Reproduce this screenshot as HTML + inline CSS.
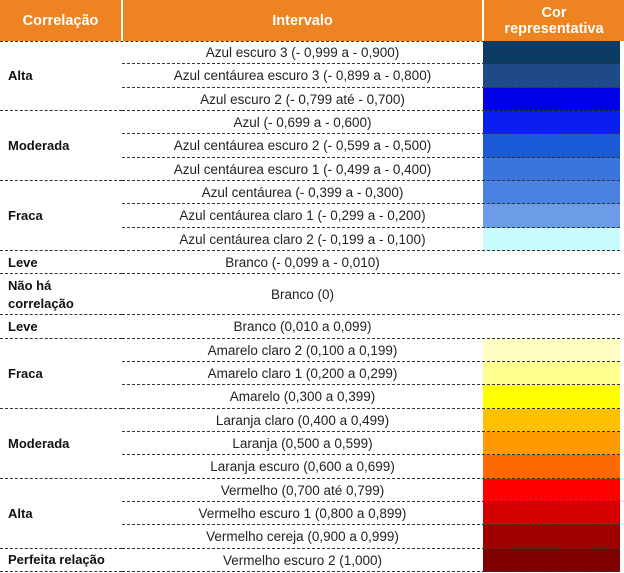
<!DOCTYPE html>
<html><head><meta charset="utf-8"><style>
body{margin:0;width:624px;height:573px;background:#fff;font-family:"Liberation Sans",sans-serif;position:relative;overflow:hidden}
.a{position:absolute;box-sizing:border-box}
.h{background:#ee8322;color:#fff;font-weight:bold;font-size:14.5px;display:flex;align-items:center;justify-content:center;text-align:center;line-height:16px;top:0;height:41px}
.t{font-size:13.5px;color:#222;display:flex;align-items:center;justify-content:center;white-space:nowrap}
.g{font-size:13px;font-weight:bold;color:#111;display:flex;align-items:center;left:8px;line-height:18px;white-space:nowrap}
.d{height:0;border-top:1px dashed #333}
</style></head><body>
<div class="a h" style="left:0;width:121px">Correlação</div>
<div class="a h" style="left:123px;width:359px">Intervalo</div>
<div class="a h" style="left:484px;width:140px">Cor<br>representativa</div>
<div id="tb"></div>
<script>
const labels=["Azul escuro 3 (- 0,999 a - 0,900)","Azul centáurea escuro 3 (- 0,899 a - 0,800)","Azul escuro 2 (- 0,799 até - 0,700)","Azul (- 0,699 a - 0,600)","Azul centáurea escuro 2 (- 0,599 a - 0,500)","Azul centáurea escuro 1 (- 0,499 a - 0,400)","Azul centáurea (- 0,399 a - 0,300)","Azul centáurea claro 1 (- 0,299 a - 0,200)","Azul centáurea claro 2 (- 0,199 a - 0,100)","Branco (- 0,099 a - 0,010)","Branco (0)","Branco (0,010 a 0,099)","Amarelo claro 2 (0,100 a 0,199)","Amarelo claro 1 (0,200 a 0,299)","Amarelo (0,300 a 0,399)","Laranja claro (0,400 a 0,499)","Laranja (0,500 a 0,599)","Laranja escuro (0,600 a 0,699)","Vermelho (0,700 até 0,799)","Vermelho escuro 1 (0,800 a 0,899)","Vermelho cereja (0,900 a 0,999)","Vermelho escuro 2 (1,000)"];
const colors=["#0b3a64","#1f4a8a","#0000e6","#0a1ef2","#1a5ad6","#3a74dc","#4a82e4","#6c9be8","#c9fbfd",null,null,null,"#ffffc4","#ffff90","#ffff00","#ffc000","#ff9a00","#ff6a00","#ff0000","#d40000","#a00000","#7e0000"];
const groups=[["Alta",3],["Moderada",3],["Fraca",3],["Leve",1],["Não há<br>correlação",1],["Leve",1],["Fraca",3],["Moderada",3],["Alta",3],["Perfeita relação",1]];
const tb=document.getElementById('tb');
const H=23.33,HD=41;let y=41;const tops=[];
labels.forEach((l,i)=>{tops.push(y);y+=(i===10?HD:H);});tops.push(y);
labels.forEach((l,i)=>{
 const hh=tops[i+1]-tops[i];
 if(colors[i]){const c=document.createElement('div');c.className='a';
 
 
 c.style.cssText=`left:483px;width:137px;top:${tops[i]}px;height:${hh}px;background:${colors[i]}`;tb.appendChild(c);}
 const t=document.createElement('div');t.className='a t';
 
 
 t.style.cssText=`left:122px;width:361px;top:${tops[i]}px;height:${hh}px`;t.textContent=l;tb.appendChild(t);
 const d=document.createElement('div');d.className='a d';
 
 
 d.style.cssText=`left:122px;width:498px;top:${tops[i+1]-1}px`;tb.appendChild(d);
});
let k=0;
groups.forEach(g=>{const y0=tops[k],y1=tops[k+g[1]];k+=g[1];
 const e=document.createElement('div');e.className='a g';
 
 
 e.style.cssText=`top:${y0}px;height:${y1-y0}px;width:114px`;e.innerHTML=g[0];tb.appendChild(e);
 const d=document.createElement('div');d.className='a d';
 
 
 d.style.cssText=`left:0;width:122px;top:${y1-1}px`;tb.appendChild(d);
});
const d0=document.createElement('div');d0.className='a d';


d0.style.cssText='left:0;width:620px;top:41px';tb.appendChild(d0);
</script>
</body></html>
